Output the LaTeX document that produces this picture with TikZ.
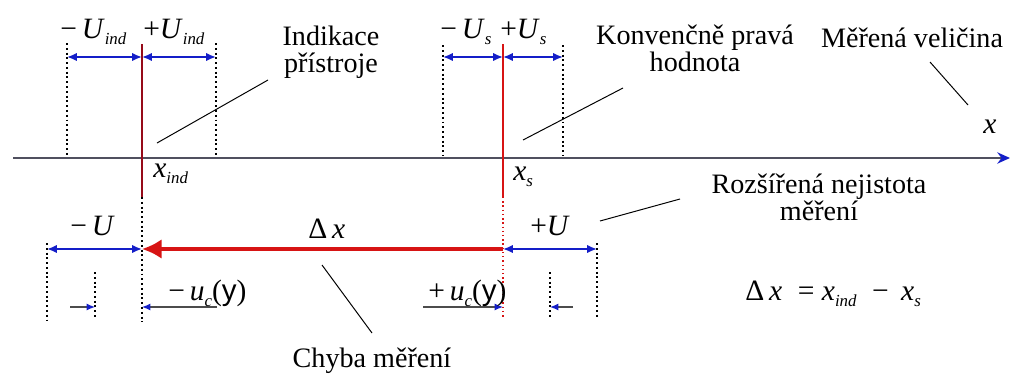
\documentclass[tikz,border=0pt]{standalone}
\usepackage{fontspec}
\setmainfont{Liberation Serif}
\newfontfamily\uprsans{Liberation Sans}
\usetikzlibrary{arrows.meta}
\definecolor{dimblue}{RGB}{20,30,200}
\definecolor{errred}{RGB}{215,20,20}
\definecolor{indred}{RGB}{150,10,25}
\definecolor{axisgray}{RGB}{80,80,95}
\newcommand{\subidx}[1]{\raisebox{-0.45ex}{\fontsize{12}{12}\selectfont\textit{#1}}}

\begin{document}
\begin{tikzpicture}[
  x=0.025cm,y=-0.025cm,
  every node/.style={inner sep=0pt},
  txt/.style={font=\fontsize{20}{19}\selectfont,align=center,anchor=base},
  lbl/.style={font=\fontsize{21}{21}\selectfont,anchor=base west},
  dim/.style={dimblue,line width=1.3pt,{Latex[length=7pt,width=6pt]}-{Latex[length=7pt,width=6pt]}},
  guide/.style={dotted,line width=1.4pt},
  leader/.style={line width=0.7pt},
  ucline/.style={draw=black!70,line width=0.8pt,-{Latex[dimblue,length=6pt,width=5pt]}},
  >=Latex
]
  \useasboundingbox (0,0) rectangle (1012,376);

  % axis
  \coordinate (axL) at (13,158);
  \coordinate (axR) at (1010,158);
  \draw[axisgray,line width=1.5pt,-{Stealth[dimblue,length=9pt,width=8pt]}] (axL) -- (axR);

  % indication of the instrument
  \coordinate (indT) at (142,44);
  \coordinate (indB) at (142,197);
  \coordinate (indE) at (142,322);
  \coordinate (indL) at (67,43);
  \coordinate (indLb) at (67,156);
  \coordinate (indR) at (216,43);
  \coordinate (indRb) at (216,156);
  \draw[indred,line width=1.6pt] (indT) -- (indB);
  \draw[guide] (indB) -- (indE);
  \draw[guide] (indL) -- (indLb);
  \draw[guide] (indR) -- (indRb);
  \draw[dim] (67,57) -- (142,57);
  \draw[dim] (142,57) -- (216,57);

  % conventional true value
  \coordinate (sT) at (503,44);
  \coordinate (sB) at (503,197);
  \coordinate (sE) at (503,318);
  \coordinate (sL) at (443,45);
  \coordinate (sLb) at (443,156);
  \coordinate (sR) at (563,45);
  \coordinate (sRb) at (563,156);
  \draw[errred,line width=1pt] (sT) -- (sB);
  \draw[errred,dotted,line width=1pt] (sB) -- (sE);
  \draw[guide] (sL) -- (sLb);
  \draw[guide] (sR) -- (sRb);
  \draw[dim] (443,57) -- (503,57);
  \draw[dim] (503,57) -- (563,57);

  % error and expanded uncertainty
  \coordinate (dxS) at (503,249);
  \coordinate (dxI) at (142,249);
  \draw[errred,line width=2.2pt,-{Latex[length=14pt,width=14pt]}] (dxS) -- (dxI);
  \draw[dim] (47,249) -- (dxI);
  \draw[dim] (dxS) -- (597,249);
  \draw[guide] (47,243) -- (47,320);
  \draw[guide] (597,243) -- (597,318);
  \draw[guide] (95,272) -- (95,318);
  \draw[guide] (550,272) -- (550,318);

  % standard uncertainty
  \draw[ucline] (70,307) -- (95,307);
  \draw[ucline] (217,307) -- (142,307);
  \draw[ucline] (423,307) -- (503,307);
  \draw[ucline] (573,307) -- (550,307);

  % texts
  \node[txt] (ind) at (331,72) {Indikace\\přístroje};
  \node[txt] (kpv) at (695,71) {Konvenčně pravá\\hodnota};
  \node[txt] (mv) at (912,47) {Měřená veličina};
  \node[txt] (rn) at (819,220) {Rozšířená nejistota\\měření};
  \node[txt] (chm) at (372,367) {Chyba měření};

  \node[lbl] (mUind) at (60,38) {−\,\textit{U}\subidx{ind}};
  \node[lbl] (pUind) at (143,38) {+\textit{U}\subidx{ind}};
  \node[lbl] (mUs) at (440,38) {−\,\textit{U}\subidx{s}};
  \node[lbl] (pUs) at (500,38) {+\textit{U}\subidx{s}};
  \node[lbl] (xind) at (153,177) {\textit{x}\subidx{ind}};
  \node[lbl] (xs) at (513,180) {\textit{x}\subidx{s}};
  \node[lbl] (xax) at (983,133) {\textit{x}};
  \node[lbl] (dx) at (308,238) {Δ\,\textit{x}};
  \node[lbl] (mU) at (70,235) {−\,\textit{U}};
  \node[lbl] (pU) at (530,235) {+\textit{U}};
  \node[lbl] (muc) at (168,300) {−\,\textit{u}\subidx{c}({\uprsans y})};
  \node[lbl] (puc) at (428,300) {+\,\textit{u}\subidx{c}({\uprsans y})};
  \node[lbl] (eq) at (745,300) {Δ\,\textit{x}\; = \textit{x}\subidx{ind}\; − \,\textit{x}\subidx{s}};

  % leaders
  \draw[leader] (157,143) -- (268,80);
  \draw[leader] (523,140) -- (623,88);
  \draw[leader] (930,62) -- (968,105);
  \draw[leader] (600,221) -- (680,199);
  \draw[leader] (322,265) -- (372,333);
\end{tikzpicture}
\end{document}
